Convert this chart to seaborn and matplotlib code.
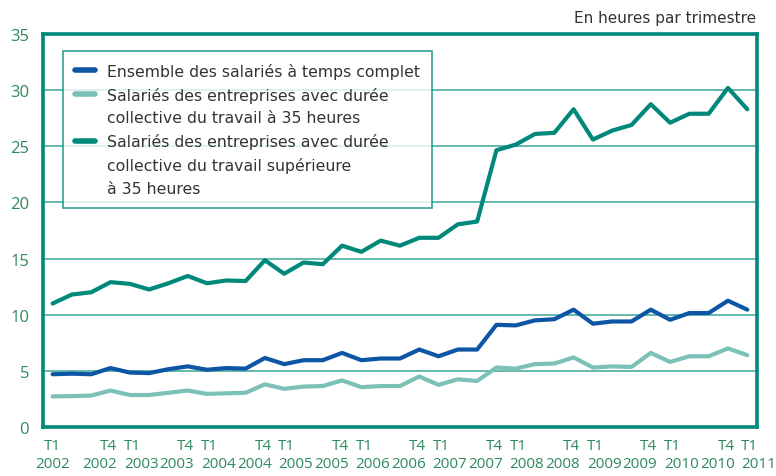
import numpy as np
import pandas as pd
import matplotlib
matplotlib.use("Agg")
import matplotlib.pyplot as plt
import matplotlib.transforms as mtransforms
from matplotlib.lines import Line2D
import seaborn as sns

# Trimestres T1 2002 ... T1 2011
trimestres = [f"T{q} {y}" for y in range(2002, 2011) for q in range(1, 5)] + ["T1 2011"]

ensemble = [4.7, 4.75, 4.7, 5.25, 4.85, 4.8, 5.15, 5.4, 5.1, 5.25, 5.2, 6.15, 5.6,
            5.95, 5.95, 6.6, 5.95, 6.1, 6.1, 6.9, 6.3, 6.9, 6.9, 9.1, 9.05, 9.5, 9.6,
            10.45, 9.2, 9.4, 9.4, 10.45, 9.55, 10.15, 10.15, 11.25, 10.45]
a_35h = [2.73, 2.75, 2.8, 3.25, 2.85, 2.85, 3.05, 3.25, 2.95, 3.0, 3.05, 3.8, 3.4,
         3.6, 3.65, 4.15, 3.55, 3.65, 3.65, 4.5, 3.75, 4.25, 4.1, 5.3, 5.2, 5.6, 5.65,
         6.2, 5.3, 5.4, 5.35, 6.6, 5.8, 6.3, 6.3, 7.0, 6.4]
sup_35h = [11.0, 11.8, 12.0, 12.9, 12.75, 12.25, 12.8, 13.45, 12.8, 13.05, 13.0, 14.85, 13.65,
           14.65, 14.5, 16.15, 15.6, 16.6, 16.15, 16.85, 16.85, 18.05, 18.3, 24.65, 25.15, 26.1, 26.2,
           28.3, 25.6, 26.4, 26.9, 28.75, 27.1, 27.9, 27.9, 30.2, 28.3]

noms = ["Ensemble des salariés à temps complet",
        "Salariés des entreprises avec durée\ncollective du travail à 35 heures",
        "Salariés des entreprises avec durée\ncollective du travail supérieure\nà 35 heures"]
couleurs = ["#0D55A5", "#7CC1B8", "#00897A"]

n = len(trimestres)
df = pd.DataFrame({
    "idx": list(range(n)) * 3,
    "valeur": ensemble + a_35h + sup_35h,
    "serie": [noms[0]] * n + [noms[1]] * n + [noms[2]] * n,
})

sns.set_theme(style="white")
plt.rcParams["font.family"] = ["DejaVu Sans"]

vert = "#00897A"
vert_txt = "#2E8A5E"

fig = plt.figure(figsize=(7.76, 4.77), dpi=100)
ax = fig.add_axes([0.0554, 0.1027, 0.92, 0.8239])

sns.lineplot(data=df, x="idx", y="valeur", hue="serie", hue_order=noms,
             palette=dict(zip(noms, couleurs)), linewidth=3.0, ax=ax, legend=False)

ax.set_xlim(-0.5, n - 0.5)
ax.set_ylim(0, 35)
ax.set_yticks(range(0, 36, 5))
ax.yaxis.grid(True, color="#3AA596", linewidth=1.1)
ax.set_axisbelow(True)
for s in ax.spines.values():
    s.set_color(vert)
    s.set_linewidth(2.6)

# graduations entre les années, étiquettes sur T1 et T4
ax.set_xticks(np.arange(-0.5, n - 1, 4))
ax.set_xticklabels([])
pos_lab = [i for i, t in enumerate(trimestres) if t.startswith("T1") or t.startswith("T4")]
ax.set_xticks(pos_lab, minor=True)
ax.set_xticklabels([trimestres[i].replace(" ", "\n") for i in pos_lab], minor=True)
ax.tick_params(axis="x", which="major", length=5, width=1, color=vert, direction="out")
ax.tick_params(axis="x", which="minor", length=0, pad=8, labelsize=11, labelcolor=vert_txt)
ax.tick_params(axis="y", length=5, width=1.2, color=vert, labelsize=12, labelcolor=vert_txt, pad=5)
for t in ax.get_yticklabels():
    t.set_family("Open Sans")
for i, t in zip(pos_lab, ax.get_xticklabels(minor=True)):
    t.set_family("Open Sans")
    t.set_linespacing(1.3)
    if i == 0:
        continue
    if trimestres[i].startswith("T4"):
        t.set_horizontalalignment("right")
        t.set_multialignment("right")
        dx = 4.8 / 72
    else:
        t.set_horizontalalignment("left")
        t.set_multialignment("left")
        dx = -4.3 / 72
    t.set_transform(t.get_transform() + mtransforms.ScaledTranslation(dx, 0, fig.dpi_scale_trans))

ax.set_xlabel("")
ax.set_ylabel("")

# légende : une ligne de texte par rangée, le trait sur la première ligne
lignes = []
textes = []
for nom, c in zip(noms, couleurs):
    for k, morceau in enumerate(nom.split("\n")):
        if k == 0:
            lignes.append(Line2D([], [], color=c, linewidth=4))
        else:
            lignes.append(Line2D([], [], color="none"))
        textes.append(morceau)

leg = ax.legend(lignes, textes, loc="upper left", bbox_to_anchor=(0.028, 0.957), frameon=True,
                fancybox=False, fontsize=11.3, handlelength=1.3, handletextpad=0.75,
                labelspacing=0.5, borderpad=0.75, borderaxespad=0, labelcolor="#333333")
leg.get_frame().set_edgecolor(vert)
leg.get_frame().set_linewidth(1.2)

fig.text(0.974, 0.945, "En heures par trimestre", ha="right", va="bottom",
         fontsize=11, color="#333333")

fig.savefig("out.png", dpi=100)
